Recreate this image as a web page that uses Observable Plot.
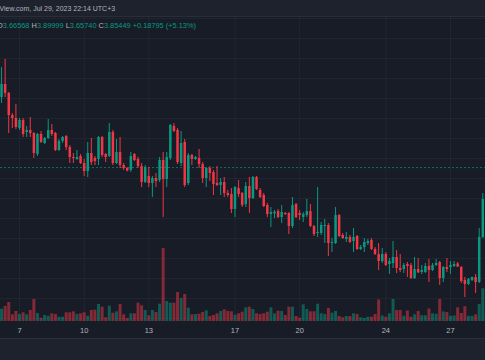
<!DOCTYPE html>
<html><head><meta charset="utf-8">
<script src="https://cdn.jsdelivr.net/npm/d3@7"></script>
<script src="https://cdn.jsdelivr.net/npm/@observablehq/plot@0.6"></script>
<style>
html,body{margin:0;padding:0;background:#181c27;}
#wrap{position:relative;width:485px;height:360px;overflow:hidden;background:#181c27;font-family:"Liberation Sans",Arial,sans-serif;}
#hdr{position:absolute;left:0;top:0;width:485px;height:16px;background:#1e222d;border-bottom:1px solid #2a2e39;}
#title{position:absolute;left:-24px;top:5px;font-size:7px;line-height:8px;color:#b2b5be;white-space:nowrap;}
#ohlc{position:absolute;left:-3px;top:22px;font-size:7.4px;line-height:8px;white-space:nowrap;color:#089981;z-index:3}
#ohlc span{color:#b2b5be}
#foot{position:absolute;left:0;top:338px;width:485px;height:22px;background:#1e222d;border-top:1px solid #2a2e39;}
.layer{position:absolute;left:0;top:17px;}
</style></head>
<body>
<div id="wrap">
  <div id="hdr"><div id="title">TradingView.com, Jul 29, 2023 22:14 UTC+3</div></div>
  <div id="ohlc"><span>O</span>3.66568 <span>H</span>3.89999 <span>L</span>3.65740 <span>C</span>3.85449 +0.18795 (+5.13%)</div>
  <div id="main" class="layer"></div>
  <div id="vol" class="layer"></div>
  <div id="foot"></div>
</div>
<script>
// 4-hour candles starting Jul 6, 2023 04:00
const opens = [4.205,4.270,4.225,4.115,4.100,4.050,4.090,4.030,4.040,4.025,3.920,4.020,3.975,4.000,4.040,4.025,3.940,3.985,4.010,3.955,
3.905,3.895,3.910,3.875,3.835,3.925,3.900,3.895,4.005,3.920,3.910,4.030,3.875,3.930,3.865,3.850,3.840,3.920,3.895,3.860,
3.780,3.810,3.775,3.800,3.790,3.890,3.795,3.900,4.060,4.040,3.875,3.980,3.775,3.915,3.895,3.900,3.870,3.800,3.850,3.830,
3.775,3.765,3.780,3.725,3.720,3.645,3.750,3.725,3.670,3.760,3.700,3.805,3.740,3.715,3.665,3.620,3.623,3.635,3.605,3.625,
3.625,3.560,3.670,3.625,3.605,3.615,3.635,3.560,3.525,3.525,3.560,3.565,3.475,3.475,3.615,3.515,3.495,3.505,3.485,3.510,
3.445,3.455,3.475,3.490,3.445,3.420,3.385,3.420,3.370,3.375,3.405,3.350,3.345,3.370,3.365,3.300,3.345,3.330,3.330,3.360,
3.340,3.365,3.380,3.300,3.355,3.355,3.360,3.373,3.355,3.290,3.270,3.290,3.305,3.280,3.505,3.685];
const highs = [4.355,4.395,4.230,4.125,4.170,4.100,4.100,4.060,4.105,4.030,4.025,4.035,4.005,4.095,4.070,4.030,3.995,4.010,4.015,3.965,
3.925,3.940,3.920,3.895,3.980,4.000,3.910,4.010,4.010,3.925,4.075,4.040,3.995,4.005,3.875,3.855,3.930,3.925,3.905,3.875,
3.865,3.855,3.810,3.825,3.905,3.930,3.930,4.070,4.075,4.050,4.035,3.995,3.925,3.920,3.910,3.945,3.880,3.855,3.860,3.840,
3.860,3.800,3.805,3.740,3.750,3.760,3.790,3.730,3.780,3.805,3.810,3.810,3.750,3.725,3.675,3.655,3.640,3.645,3.665,3.630,
3.630,3.705,3.675,3.640,3.630,3.695,3.670,3.565,3.755,3.580,3.595,3.575,3.500,3.655,3.620,3.525,3.530,3.515,3.550,3.515,
3.465,3.500,3.495,3.500,3.455,3.475,3.450,3.430,3.400,3.485,3.440,3.420,3.375,3.380,3.375,3.405,3.400,3.365,3.375,3.395,
3.375,3.395,3.385,3.360,3.400,3.385,3.385,3.380,3.360,3.305,3.300,3.307,3.320,3.550,3.725,3.695];
const lows = [4.175,4.205,4.025,4.050,4.045,4.040,4.005,4.005,4.005,3.900,3.910,3.975,3.970,3.995,4.010,3.935,3.935,3.975,3.940,3.875,
3.875,3.890,3.870,3.810,3.805,3.865,3.865,3.865,3.905,3.880,3.905,3.865,3.870,3.850,3.840,3.833,3.830,3.885,3.850,3.755,
3.775,3.755,3.705,3.755,3.780,3.605,3.755,3.890,4.030,3.870,3.860,3.755,3.765,3.865,3.890,3.850,3.775,3.755,3.785,3.715,
3.760,3.715,3.705,3.705,3.625,3.605,3.705,3.655,3.655,3.625,3.695,3.740,3.700,3.655,3.605,3.555,3.600,3.600,3.575,3.615,
3.520,3.550,3.600,3.590,3.580,3.605,3.555,3.510,3.505,3.515,3.475,3.410,3.430,3.470,3.505,3.495,3.480,3.475,3.430,3.440,
3.440,3.430,3.465,3.440,3.415,3.340,3.375,3.360,3.320,3.350,3.325,3.330,3.325,3.305,3.295,3.295,3.325,3.320,3.325,3.280,
3.335,3.360,3.265,3.280,3.330,3.320,3.355,3.355,3.275,3.205,3.265,3.285,3.225,3.275,3.500,3.275];
const closes = [4.270,4.225,4.115,4.100,4.055,4.090,4.020,4.040,4.025,3.925,4.020,3.980,4.000,4.040,4.020,3.940,3.985,4.005,3.955,3.905,
3.900,3.905,3.875,3.835,3.925,3.880,3.885,4.005,3.915,3.905,4.030,3.875,3.930,3.865,3.850,3.837,3.910,3.890,3.860,3.780,
3.855,3.775,3.800,3.785,3.890,3.795,3.905,4.065,4.035,3.880,3.975,3.765,3.915,3.895,3.905,3.870,3.800,3.850,3.825,3.770,
3.765,3.780,3.725,3.715,3.645,3.755,3.720,3.665,3.760,3.700,3.805,3.745,3.705,3.660,3.620,3.630,3.632,3.605,3.630,3.620,
3.560,3.665,3.605,3.615,3.620,3.635,3.560,3.520,3.530,3.565,3.565,3.475,3.480,3.615,3.510,3.500,3.505,3.480,3.505,3.445,
3.455,3.480,3.485,3.445,3.420,3.385,3.420,3.365,3.385,3.405,3.350,3.340,3.365,3.360,3.300,3.345,3.328,3.340,3.360,3.340,
3.365,3.375,3.300,3.355,3.345,3.365,3.370,3.357,3.285,3.270,3.295,3.305,3.280,3.505,3.695,3.465];
const volumes = [123,150,190,67,100,70,87,67,110,220,80,33,60,53,77,70,43,43,87,87,
97,70,77,87,53,110,113,170,143,37,153,83,97,170,67,30,77,77,183,157,
110,57,110,90,173,730,200,183,183,290,230,270,133,67,70,73,90,107,50,60,
77,100,117,100,97,63,77,93,137,143,120,77,70,77,93,137,77,103,100,60,
143,143,50,33,167,120,97,97,173,77,70,130,83,100,50,37,50,50,77,70,
37,30,43,43,70,215,55,43,77,220,110,110,52,105,43,68,100,58,58,125,
77,72,220,95,90,52,55,137,80,148,52,52,67,170,327,100];
const tickDays = [7,10,13,17,20,24,27];
const gridPrices = [3.1,3.2,3.3,3.4,3.5,3.6,3.7,3.8,3.9,4.0,4.1,4.2,4.3,4.4,4.5,4.6];
const lastClose = 3.85449;

const UP = "#089981", DN = "#f23645";
const HOUR = 3600*1000;
const t0 = Date.UTC(2023,6,6,4);
const data = opens.map((o,i)=>({t:new Date(t0+i*4*HOUR), o, h:highs[i], l:lows[i], c:closes[i], v:volumes[i], up: closes[i]>=o}));
const xDomain = [new Date(Date.UTC(2023,6,6,2,50)), new Date(Date.UTC(2023,6,28,15,0))];
const tickDates = tickDays.map(d=>new Date(Date.UTC(2023,6,d)));

const main = Plot.plot({
  width:485, height:321, marginTop:0, marginLeft:0, marginRight:0, marginBottom:17,
  style:{background:"transparent", overflow:"visible"},
  x:{type:"utc", domain:xDomain, axis:null, label:null},
  y:{domain:[3.085,4.605], axis:null, label:null},
  color:{type:"identity"},
  marks:[
    Plot.gridY(gridPrices,{stroke:"#2a2e39", strokeOpacity:0.55}),
    Plot.gridX(tickDates,{stroke:"#2a2e39", strokeOpacity:0.55}),
    Plot.axisX(tickDates,{tickSize:0, tickPadding:6, label:null, tickFormat:d=>d.getUTCDate(), fontSize:7.5, fill:"#b2b5be", fontFamily:"Liberation Sans"}),
    Plot.ruleY([lastClose],{stroke:"#0b8a75", strokeDasharray:"2,2", strokeOpacity:0.8}),
    Plot.ruleX(data,{x:"t", y1:"l", y2:"h", stroke:d=>d.up?UP:DN, strokeWidth:1}),
    Plot.ruleX(data,{x:"t", y1:"o", y2:"c", stroke:d=>d.up?UP:DN, strokeWidth:2.5})
  ]
});
document.getElementById("main").appendChild(main);

const vol = Plot.plot({
  width:485, height:304, margin:0,
  style:{background:"transparent"},
  x:{type:"utc", domain:xDomain, axis:null},
  y:{domain:[0,3040], axis:null},
  color:{type:"identity"},
  marks:[
    Plot.ruleX(data,{x:"t", y1:0, y2:"v", stroke:d=>d.up?UP:DN, strokeOpacity:0.5, strokeWidth:3})
  ]
});
document.getElementById("vol").appendChild(vol);
</script>
</body></html>
